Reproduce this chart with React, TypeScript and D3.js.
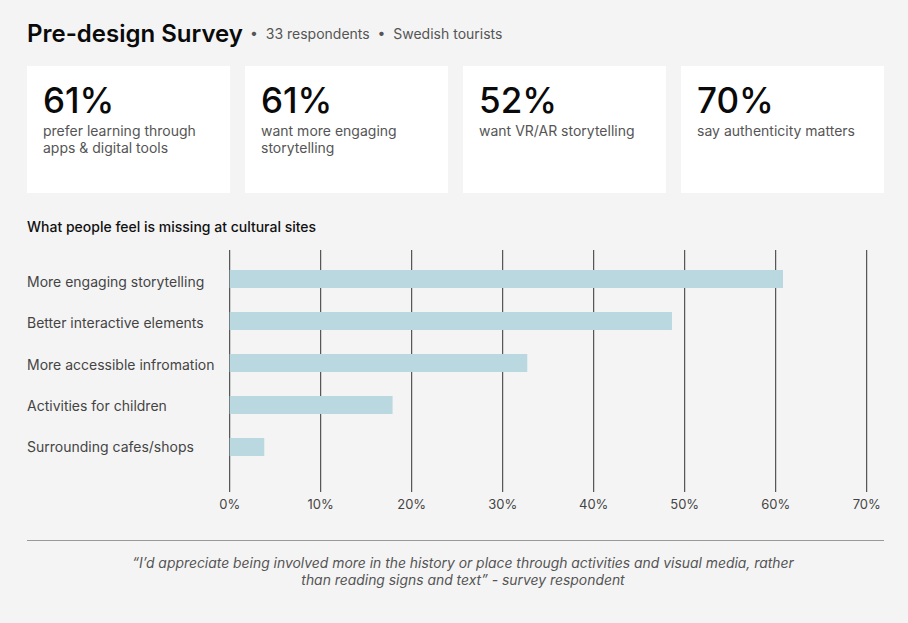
import { useEffect, useRef } from 'react'
import * as d3 from 'd3'

const statValues = ['61%', '61%', '52%', '70%']
const statLabels = [
  ['prefer learning through', 'apps & digital tools'],
  ['want more engaging', 'storytelling'],
  ['want VR/AR storytelling'],
  ['say authenticity matters'],
]

const categories = [
  'More engaging storytelling',
  'Better interactive elements',
  'More accessible infromation',
  'Activities for children',
  'Surrounding cafes/shops',
]
const shares = [60.8, 48.6, 32.7, 17.9, 3.8]
const xTicks = [0, 10, 20, 30, 40, 50, 60, 70]

const quoteLines = [
  '“I’d appreciate being involved more in the history or place through activities and visual media, rather',
  'than reading signs and text” - survey respondent',
]

const W = 908
const H = 623
const FONT = 'Inter, "Noto Sans", sans-serif'

export default function App() {
  const svgRef = useRef<SVGSVGElement>(null)

  useEffect(() => {
    const svg = d3.select(svgRef.current)
    svg.selectAll('*').remove()

    svg.append('rect').attr('width', W).attr('height', H).attr('fill', '#f4f4f4')

    // header
    svg.append('text')
      .attr('x', 27).attr('y', 42)
      .attr('font-size', 24).attr('font-weight', 600).attr('fill', '#0a0a0a')
      .style('font-family', FONT)
      .text('Pre-design Survey')
    svg.append('text')
      .attr('x', 250).attr('y', 38.5)
      .attr('font-size', 14).attr('fill', '#555')
      .style('font-family', FONT)
      .style('white-space', 'pre')
      .text('•  33 respondents  •  Swedish tourists')

    // stat cards
    const cardX = d3.scaleBand<number>()
      .domain(d3.range(statValues.length))
      .range([27, 884])
      .paddingInner(0.069)
    const cards = svg.selectAll('g.card')
      .data(statValues)
      .enter().append('g')
      .attr('class', 'card')
      .attr('transform', (_, i) => `translate(${cardX(i)},66)`)
    cards.append('rect')
      .attr('width', cardX.bandwidth()).attr('height', 127)
      .attr('fill', '#ffffff')
    cards.append('text')
      .attr('x', 16).attr('y', 47)
      .attr('font-size', 35).attr('font-weight', 500).attr('fill', '#0a0a0a')
      .style('font-family', FONT)
      .text(d => d)
    cards.each(function (_, i) {
      d3.select(this).selectAll('text.desc')
        .data(statLabels[i])
        .enter().append('text')
        .attr('class', 'desc')
        .attr('x', 16).attr('y', (_, j) => 70 + j * 17)
        .attr('font-size', 14).attr('fill', '#555')
        .style('font-family', FONT)
        .text(d => d)
    })

    // bar chart
    svg.append('text')
      .attr('x', 27).attr('y', 232)
      .attr('font-size', 14).attr('font-weight', 500).attr('fill', '#111')
      .style('font-family', FONT)
      .text('What people feel is missing at cultural sites')

    const x = d3.scaleLinear().domain([0, 70]).range([229.7, 866.7])
    const y = d3.scalePoint<string>().domain(categories).range([279, 447])
    // labels sit on their own rows, slightly off the bar centres
    const yLabel = d3.scalePoint<string>().domain(categories).range([287, 452])
    const barH = 18

    svg.append('g')
      .selectAll('line')
      .data(xTicks)
      .enter().append('line')
      .attr('x1', d => x(d)).attr('x2', d => x(d))
      .attr('y1', 250).attr('y2', 492)
      .attr('stroke', '#333').attr('stroke-width', 1)

    svg.append('g')
      .selectAll('rect')
      .data(shares)
      .enter().append('rect')
      .attr('x', x(0))
      .attr('y', (_, i) => (y(categories[i]) as number) - barH / 2)
      .attr('width', d => x(d) - x(0))
      .attr('height', barH)
      .attr('fill', '#b9d8df')

    svg.append('g')
      .selectAll('text')
      .data(categories)
      .enter().append('text')
      .attr('x', 27).attr('y', d => yLabel(d) as number)
      .attr('font-size', 14).attr('fill', '#444')
      .style('font-family', FONT)
      .text(d => d)

    svg.append('g')
      .selectAll('text')
      .data(xTicks)
      .enter().append('text')
      .attr('x', d => x(d)).attr('y', 509)
      .attr('text-anchor', 'middle')
      .attr('font-size', 13).attr('fill', '#444')
      .style('font-family', FONT)
      .text(d => `${d}%`)

    // divider + quote
    svg.append('line')
      .attr('x1', 27).attr('x2', 884)
      .attr('y1', 540.5).attr('y2', 540.5)
      .attr('stroke', '#999').attr('stroke-width', 1)

    svg.append('g')
      .selectAll('text')
      .data(quoteLines)
      .enter().append('text')
      .attr('x', 463).attr('y', (_, i) => 568 + i * 17)
      .attr('text-anchor', 'middle')
      .attr('font-size', 13.9).attr('font-style', 'italic').attr('fill', '#555')
      .style('font-family', FONT)
      .text(d => d)
  }, [])

  return (
    <svg
      ref={svgRef}
      width={W}
      height={H}
      style={{ position: 'absolute', left: 0, top: 0, display: 'block' }}
    />
  )
}
